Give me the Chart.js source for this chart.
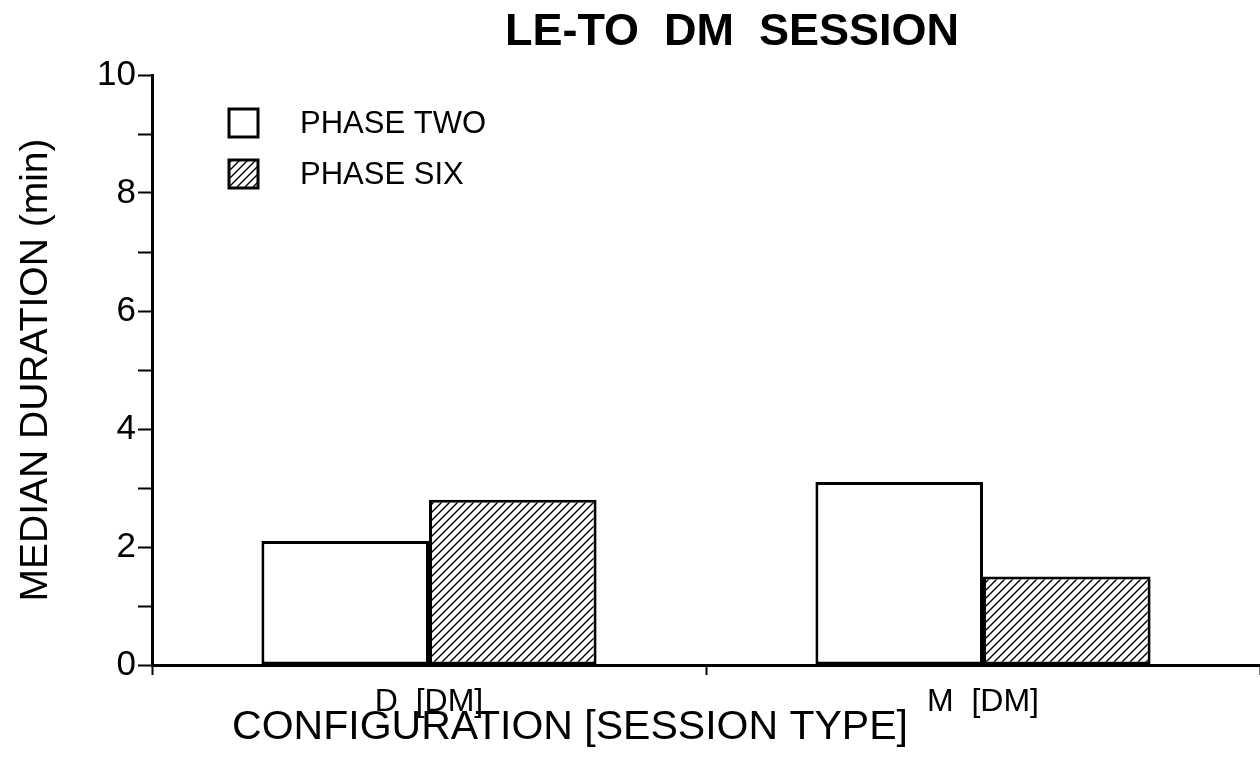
<!DOCTYPE html>
<html>
<head>
<meta charset="utf-8">
<script src="https://cdn.jsdelivr.net/npm/chart.js@4/dist/chart.umd.min.js"></script>
<style>
  html, body { margin: 0; padding: 0; background: #fff; }
  #wrap { width: 1260px; height: 758px; }
</style>
</head>
<body>
<div id="wrap"><canvas id="chart" width="1260" height="758"></canvas></div>
<script>
const categories = ['D  [DM]', 'M  [DM]'];
const phaseTwo = [2.1, 3.1];
const phaseSix = [2.8, 1.5];
const seriesNames = ['PHASE TWO', 'PHASE SIX'];
const yTicks = [0, 2, 4, 6, 8, 10];

const FONT = "'Liberation Sans', Arial, sans-serif";

// hatch fill, lines going up to the right
function makeHatch() {
  const c = document.createElement('canvas');
  c.width = 8; c.height = 8;
  const g = c.getContext('2d');
  g.fillStyle = '#fff';
  g.fillRect(0, 0, 8, 8);
  g.strokeStyle = '#000';
  g.lineWidth = 1.4;
  g.beginPath();
  g.moveTo(-1, 9); g.lineTo(9, -1);
  g.moveTo(-1, 1); g.lineTo(1, -1);
  g.moveTo(7, 9); g.lineTo(9, 7);
  g.stroke();
  return g.createPattern(c, 'repeat');
}
const hatch = makeHatch();

// title, axis titles and legend drawn by hand
const extras = {
  id: 'extras',
  afterDraw(chart) {
    const ctx = chart.ctx;
    ctx.save();
    ctx.fillStyle = '#000';
    ctx.textBaseline = 'middle';
    ctx.textAlign = 'center';

    ctx.font = 'bold 45px ' + FONT;
    ctx.fillText('LE-TO  DM  SESSION', 732, 33);

    ctx.font = '41px ' + FONT;
    ctx.fillText('CONFIGURATION [SESSION TYPE]', 570, 728);

    ctx.save();
    ctx.translate(36, 370);
    ctx.rotate(-Math.PI / 2);
    ctx.font = '39px ' + FONT;
    ctx.fillText('MEDIAN DURATION (min)', 0, 0);
    ctx.restore();

    // legend
    const rows = [123, 174];
    ctx.lineWidth = 3;
    ctx.strokeStyle = '#000';
    ctx.textAlign = 'left';
    ctx.font = '31px ' + FONT;
    chart.data.datasets.forEach((d, i) => {
      ctx.fillStyle = d.backgroundColor;
      ctx.fillRect(229, rows[i] - 14, 29, 28);
      ctx.strokeRect(229, rows[i] - 14, 29, 28);
      ctx.fillStyle = '#000';
      ctx.fillText(d.label, 300, rows[i] + 1);
    });
    ctx.restore();
  }
};

new Chart(document.getElementById('chart'), {
  type: 'bar',
  data: {
    labels: categories,
    datasets: [
      {
        label: seriesNames[0],
        data: phaseTwo,
        backgroundColor: '#fff',
        borderColor: '#000',
        borderWidth: 3,
        borderSkipped: false
      },
      {
        label: seriesNames[1],
        data: phaseSix,
        backgroundColor: hatch,
        borderColor: '#000',
        borderWidth: 3,
        borderSkipped: false
      }
    ]
  },
  options: {
    responsive: false,
    animation: false,
    layout: { padding: { top: 75, right: 0, bottom: 0, left: 0 } },
    datasets: {
      bar: { barPercentage: 1, categoryPercentage: 0.605 }
    },
    plugins: {
      legend: { display: false },
      title: { display: false },
      tooltip: { enabled: false }
    },
    scales: {
      x: {
        afterFit: (s) => { s.height = 93; },
        grid: {
          offset: true,
          drawOnChartArea: false,
          tickLength: 10,
          tickWidth: 2,
          tickColor: '#000'
        },
        border: { display: true, color: '#000', width: 3 },
        ticks: {
          color: '#000',
          padding: 8,
          font: { family: FONT, size: 32 }
        }
      },
      y: {
        min: 0,
        max: 10,
        afterFit: (s) => { s.width = 152; },
        grid: {
          drawOnChartArea: false,
          tickLength: 14,
          tickWidth: 2,
          tickColor: '#000'
        },
        border: { display: true, color: '#000', width: 3 },
        ticks: {
          stepSize: 1,
          color: '#000',
          padding: 2,
          font: { family: FONT, size: 35 },
          callback: (v) => yTicks.includes(v) ? String(v) : ''
        }
      }
    }
  },
  plugins: [extras]
});
</script>
</body>
</html>
